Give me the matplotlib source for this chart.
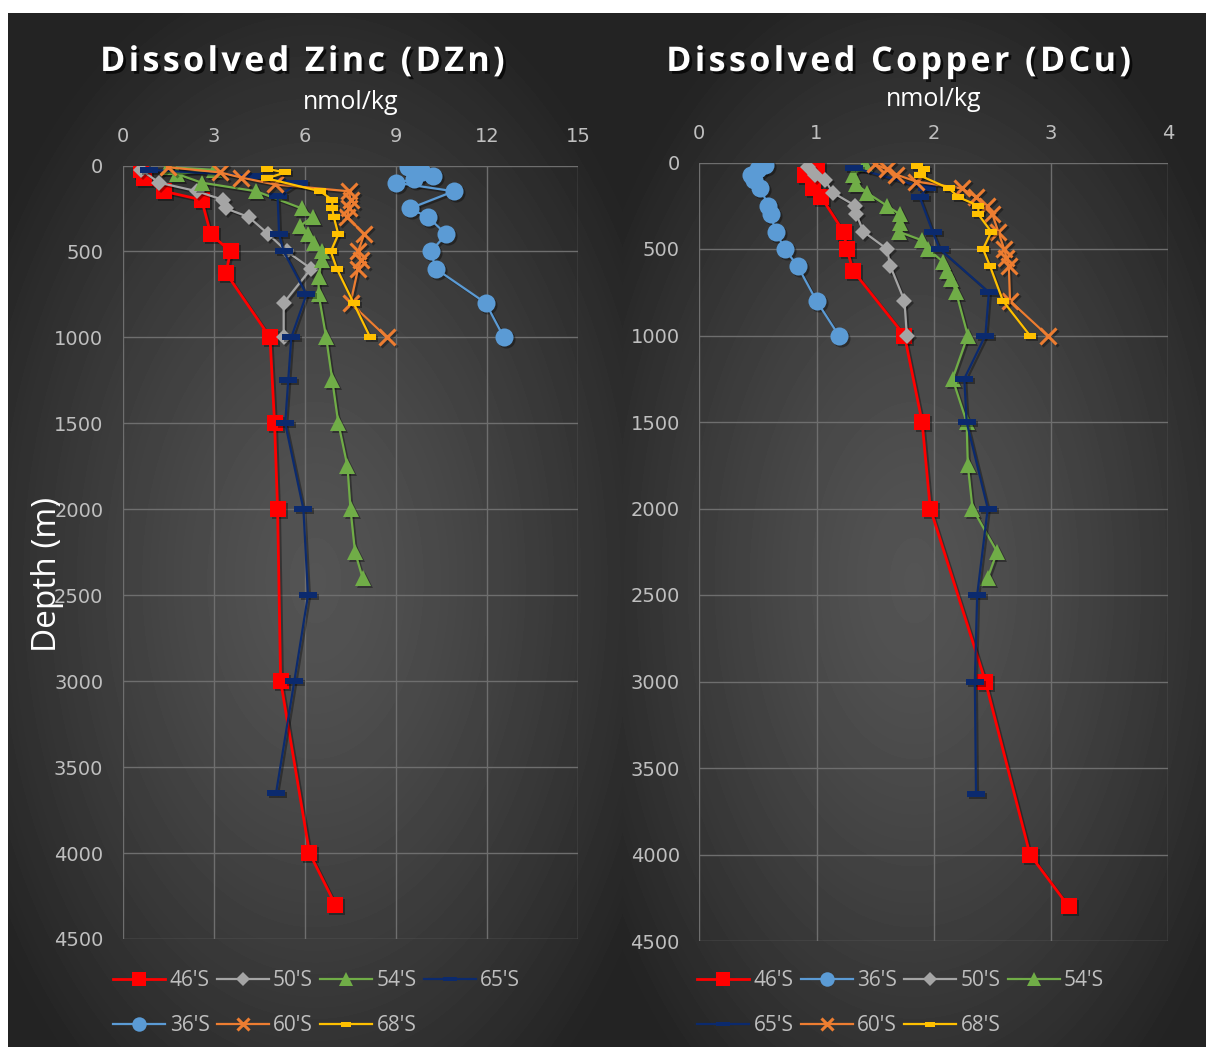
import numpy as np
import matplotlib
matplotlib.use("Agg")
import matplotlib.pyplot as plt
import matplotlib.patheffects as pe
from matplotlib.path import Path
from matplotlib.transforms import offset_copy

# ---- dissolved zinc (nmol/kg) vs depth (m) ----
zn46_depth = [25, 75, 150, 200, 400, 500, 625, 1000, 1500, 2000, 3000, 4000, 4300]
zn46 = [0.6, 0.7, 1.35, 2.6, 2.9, 3.55, 3.4, 4.85, 5.0, 5.1, 5.2, 6.15, 7.0]
zn36_depth = [10, 40, 60, 80, 100, 150, 250, 300, 400, 500, 600, 800, 1000]
zn36 = [9.4, 9.85, 10.2, 9.6, 9.0, 10.9, 9.45, 10.05, 10.65, 10.15, 10.3, 11.95, 12.55]
zn50_depth = [25, 100, 150, 200, 250, 300, 400, 500, 600, 800, 1000]
zn50 = [0.6, 1.2, 2.45, 3.3, 3.4, 4.15, 4.8, 5.4, 6.2, 5.3, 5.3]
zn54_depth = [10, 25, 50, 100, 150, 250, 300, 350, 400, 450, 500, 550, 650, 750,
              1000, 1250, 1500, 1750, 2000, 2250, 2400]
zn54 = [1.5, 3.0, 1.8, 2.6, 4.4, 5.9, 6.25, 5.85, 6.1, 6.3, 6.55, 6.55, 6.45, 6.45,
        6.7, 6.9, 7.1, 7.4, 7.5, 7.65, 7.9]
zn65_depth = [25, 60, 100, 180, 400, 500, 750, 1000, 1250, 1500, 2000, 2500, 3000, 3650]
zn65 = [0.85, 4.3, 5.8, 5.1, 5.15, 5.3, 6.05, 5.55, 5.45, 5.35, 5.95, 6.1, 5.65, 5.05]
zn60_depth = [10, 40, 70, 110, 150, 200, 250, 300, 400, 500, 550, 600, 800, 1000]
zn60 = [1.5, 3.2, 3.9, 5.0, 7.45, 7.5, 7.45, 7.4, 7.95, 7.75, 7.85, 7.75, 7.5, 8.7]
zn68_depth = [20, 40, 75, 150, 200, 250, 300, 400, 500, 600, 800, 1000]
zn68 = [4.75, 5.35, 4.75, 6.5, 6.9, 6.9, 6.95, 7.1, 6.85, 7.05, 7.6, 8.15]

# ---- dissolved copper (nmol/kg) vs depth (m) ----
cu46_depth = [25, 75, 150, 200, 400, 500, 625, 1000, 1500, 2000, 3000, 4000, 4300]
cu46 = [1.0, 0.9, 0.97, 1.04, 1.23, 1.26, 1.31, 1.75, 1.9, 1.97, 2.44, 2.82, 3.15]
cu36_depth = [15, 40, 70, 100, 150, 250, 300, 400, 500, 600, 800, 1000]
cu36 = [0.56, 0.5, 0.44, 0.47, 0.52, 0.59, 0.61, 0.65, 0.73, 0.84, 1.0, 1.19]
cu50_depth = [25, 75, 100, 175, 250, 300, 400, 500, 600, 800, 1000]
cu50 = [0.93, 0.99, 1.07, 1.14, 1.33, 1.34, 1.4, 1.6, 1.63, 1.75, 1.77]
cu54_depth = [10, 75, 125, 175, 250, 300, 350, 400, 450, 500, 575, 625, 675, 750,
              1000, 1250, 1500, 1750, 2000, 2250, 2400]
cu54 = [1.41, 1.31, 1.34, 1.43, 1.6, 1.71, 1.71, 1.7, 1.9, 1.95, 2.08, 2.11, 2.15, 2.19,
        2.29, 2.16, 2.28, 2.29, 2.33, 2.54, 2.46]
cu65_depth = [30, 150, 200, 400, 500, 750, 1000, 1250, 1500, 2000, 2500, 3000, 3650]
cu65 = [1.32, 1.94, 1.88, 1.99, 2.05, 2.47, 2.44, 2.26, 2.28, 2.46, 2.37, 2.35, 2.36]
cu60_depth = [10, 40, 70, 110, 150, 200, 250, 300, 400, 500, 550, 600, 800, 1000]
cu60 = [1.5, 1.6, 1.68, 1.85, 2.24, 2.36, 2.45, 2.5, 2.55, 2.6, 2.62, 2.64, 2.65, 2.97]
cu68_depth = [20, 40, 75, 150, 200, 250, 300, 400, 500, 600, 800, 1000]
cu68 = [1.86, 1.92, 1.88, 2.13, 2.21, 2.38, 2.38, 2.49, 2.42, 2.48, 2.59, 2.82]

depth_ticks = [0, 500, 1000, 1500, 2000, 2500, 3000, 3500, 4000, 4500]
zn_ticks = [0, 3, 6, 9, 12, 15]
cu_ticks = [0, 1, 2, 3, 4]

# excel-ish dash markers
navy_dash = Path([(-1, -0.3), (1, -0.3), (1, 0.3), (-1, 0.3), (-1, -0.3)],
                 [Path.MOVETO, Path.LINETO, Path.LINETO, Path.LINETO, Path.CLOSEPOLY])
gold_dash = Path([(-1, -0.5), (1, -0.5), (1, 0.5), (-1, 0.5), (-1, -0.5)],
                 [Path.MOVETO, Path.LINETO, Path.LINETO, Path.LINETO, Path.CLOSEPOLY])

style = {
    "46'S": dict(color='#ff0000', marker='s', ms=12, lw=2.0),
    "36'S": dict(color='#5b9bd5', marker='o', ms=13, lw=1.6),
    "50'S": dict(color='#a5a5a5', marker='D', ms=8.5, lw=1.6),
    "54'S": dict(color='#70ad47', marker='^', ms=12, lw=1.6),
    "65'S": dict(color='#0b2a6e', marker=navy_dash, ms=13, lw=1.6),
    "60'S": dict(color='#ed7d31', marker='x', ms=11, lw=1.6, mew=2.2),
    "68'S": dict(color='#ffc000', marker=gold_dash, ms=9, lw=1.6),
}

W, H = 1206, 1047
fig = plt.figure(figsize=(W / 100, H / 100), dpi=100)

# dark radial-gradient background, one per panel
yy, xx = np.mgrid[0:H, 0:W]
bg = np.ones((H, W))
for x0, x1 in [(8, 622), (622, W)]:
    cx, cy = (x0 + x1) / 2, 580
    r = np.sqrt(((xx - cx) / ((x1 - x0) * 0.62)) ** 2 + ((yy - cy) / (H * 0.6)) ** 2)
    shade = 0.33 - 0.19 * np.clip(r, 0, 1) ** 1.3
    mask = (xx >= x0) & (xx < x1) & (yy >= 13)
    bg[mask] = shade[mask]
bg_ax = fig.add_axes([0, 0, 1, 1], zorder=-10)
bg_ax.imshow(bg, cmap='gray', vmin=0, vmax=1, extent=[0, 1, 0, 1], aspect='auto',
             interpolation='bilinear')
bg_ax.axis('off')

tick_col = '#bfbfbf'
grid_col = '#6e6e6e'


def spaced(s):
    # a little tracking between letters for the headings
    return '\u200a'.join(s)


def draw_panel(rect, series, xticks, title, title_x):
    ax = fig.add_axes(rect)
    ax.set_facecolor('none')
    shadow = offset_copy(ax.transData, fig=fig, x=2, y=-2, units='dots')
    lines = {}
    for name, x, d in series:
        st = style[name]
        kw = dict(marker=st['marker'], markersize=st['ms'], lw=st['lw'],
                  mew=st.get('mew', 0))
        ax.plot(x, d, color='black', alpha=0.35, transform=shadow, **kw)
        ln, = ax.plot(x, d, color=st['color'], label=name, **kw)
        lines[name] = ln
    ax.set_xlim(xticks[0], xticks[-1])
    ax.set_ylim(4500, 0)
    ax.set_xticks(xticks)
    ax.set_yticks(depth_ticks)
    ax.xaxis.tick_top()
    ax.xaxis.set_label_position('top')
    ax.set_xlabel('nmol/kg', color='white', fontsize=18, family='Open Sans', labelpad=13)
    ax.tick_params(length=0, colors=tick_col, labelsize=14, pad=14)
    for lab in ax.get_xticklabels() + ax.get_yticklabels():
        lab.set_family('DejaVu Sans')
    ax.grid(True, color=grid_col, lw=1)
    for s in ax.spines.values():
        s.set_visible(False)
    fig.text(title_x / W, 1 - 62 / H, spaced(title), color='white', fontsize=24.5,
             fontweight='bold', family=['Open Sans', 'DejaVu Sans'],
             ha='center', va='center',
             path_effects=[pe.withSimplePatchShadow(offset=(2, -2),
                                                    shadow_rgbFace='black', alpha=0.7)])
    return ax, lines


ax1, l1 = draw_panel([122.7 / W, 1 - 939 / H, 455.6 / W, 773.5 / H],
                     [("46'S", zn46, zn46_depth), ("50'S", zn50, zn50_depth),
                      ("54'S", zn54, zn54_depth), ("65'S", zn65, zn65_depth),
                      ("36'S", zn36, zn36_depth), ("60'S", zn60, zn60_depth),
                      ("68'S", zn68, zn68_depth)],
                     zn_ticks, 'Dissolved Zinc (DZn)', 302)
ax2, l2 = draw_panel([699.3 / W, 1 - 941 / H, 469 / W, 778.5 / H],
                     [("46'S", cu46, cu46_depth), ("36'S", cu36, cu36_depth),
                      ("50'S", cu50, cu50_depth), ("54'S", cu54, cu54_depth),
                      ("65'S", cu65, cu65_depth), ("60'S", cu60, cu60_depth),
                      ("68'S", cu68, cu68_depth)],
                     cu_ticks, 'Dissolved Copper (DCu)', 898)

fig.text(47 / W, 1 - 574 / H, 'Depth (m)', color='white', fontsize=24,
         family='Open Sans', rotation=90, ha='center', va='center')


# legends: two rows, filled row by row
def add_legend(lines, order, x0):
    order = [order[0], order[4], order[1], order[5], order[2], order[6], order[3]]
    leg = fig.legend([lines[n] for n in order], order, ncol=4, frameon=False,
                     loc='upper left', bbox_to_anchor=(x0 / W, 1 - 962 / H),
                     prop=dict(family='Open Sans', size=15), labelcolor=tick_col,
                     handlelength=2.5, handletextpad=0.2, columnspacing=0.35,
                     labelspacing=1.15, markerscale=0.8, borderaxespad=0)
    return leg


add_legend(l1, ["46'S", "50'S", "54'S", "65'S", "36'S", "60'S", "68'S"], 105)
add_legend(l2, ["46'S", "36'S", "50'S", "54'S", "65'S", "60'S", "68'S"], 689)

fig.savefig('out.png', dpi=100)
